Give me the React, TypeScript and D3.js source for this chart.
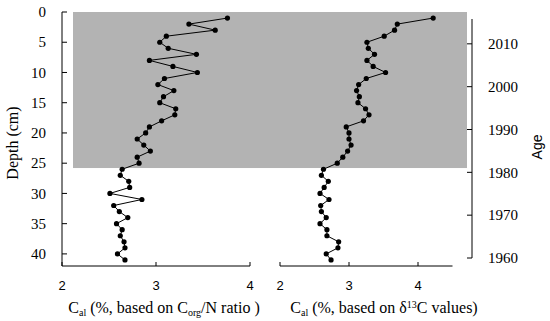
import * as d3 from 'd3';

// depth (cm) for each sample
const DEPTHS = d3.range(1, 42);

// Cal based on Corg/N ratio
const CAL_CN = [
  3.76, 3.35, 3.63, 3.11, 3.04, 3.13, 3.43, 2.93, 3.18, 3.44,
  3.09, 3.02, 3.19, 3.08, 3.04, 3.21, 3.20, 3.06, 2.93, 2.89,
  2.80, 2.87, 2.94, 2.80, 2.82, 2.64, 2.62, 2.71, 2.72, 2.51,
  2.85, 2.55, 2.61, 2.70, 2.58, 2.64, 2.62, 2.66, 2.67, 2.59,
  2.67,
];

// Cal based on d13C values
const CAL_D13C = [
  4.22, 3.70, 3.66, 3.51, 3.26, 3.28, 3.37, 3.26, 3.35, 3.53,
  3.25, 3.14, 3.11, 3.15, 3.13, 3.24, 3.29, 3.21, 2.96, 3.00,
  3.00, 3.03, 2.98, 2.91, 2.83, 2.63, 2.60, 2.70, 2.64, 2.58,
  2.71, 2.59, 2.60, 2.67, 2.58, 2.68, 2.68, 2.85, 2.84, 2.67,
  2.74,
];

const DEPTH_TICKS = [0, 5, 10, 15, 20, 25, 30, 35, 40];
const X_TICKS = [2, 3, 4];
const AGE_TICKS = [1960, 1970, 1980, 1990, 2000, 2010];
const SHADE_DEPTH = 25.8;

const SERIF = { fontFamily: "'Liberation Serif', 'Times New Roman', serif" };
const SANS = { fontFamily: "'Liberation Sans', Arial, sans-serif" };

export default function App() {
  const W = 550, H = 321;

  const y = d3.scaleLinear().domain([0, 42]).range([12, 266]);
  const xL = d3.scaleLinear().domain([2, 4]).range([62, 250]);
  const xR = d3.scaleLinear().domain([2, 4.5]).range([280, 452.5]);
  const age = d3.scaleLinear().domain([1960, 2015.8]).range([258, 19]);
  const ageX = 472;

  const lineL = d3.line<number>().x(d => xL(d)).y((_, i) => y(DEPTHS[i]));
  const lineR = d3.line<number>().x(d => xR(d)).y((_, i) => y(DEPTHS[i]));

  const axisY = 266;

  return (
    <svg width={W} height={H} style={{ display: 'block', position: 'absolute', left: 0, top: 0 }}>
      <rect x={0} y={0} width={W} height={H} fill="#fff" />
      {/* shaded recent interval */}
      <rect x={73} y={y(0)} width={ageX - 5 - 73} height={y(SHADE_DEPTH) - y(0)} fill="#b3b3b3" />

      {/* left depth axis */}
      <line x1={62} x2={62} y1={y(0)} y2={axisY} stroke="#000" strokeWidth={1} />
      {DEPTH_TICKS.map(t => (
        <g key={'d' + t}>
          <line x1={62} x2={67} y1={y(t)} y2={y(t)} stroke="#000" />
          <text x={46} y={y(t)} dy="0.35em" textAnchor="end" style={SERIF} fontSize={15}>{t}</text>
        </g>
      ))}
      <text transform={`translate(18,143) rotate(-90)`} textAnchor="middle" style={SERIF} fontSize={16}>Depth (cm)</text>

      {/* left x axis */}
      <line x1={xL(2)} x2={xL(4)} y1={axisY} y2={axisY} stroke="#000" />
      {X_TICKS.map(t => (
        <g key={'xl' + t}>
          <line x1={xL(t)} x2={xL(t)} y1={axisY} y2={axisY - 4} stroke="#000" />
          <text x={xL(t)} y={290} textAnchor="middle" style={SANS} fontSize={13}>{t}</text>
        </g>
      ))}
      <text x={164} y={313} textAnchor="middle" style={SERIF} fontSize={16}>
        C<tspan fontSize={10} dy={3}>al</tspan><tspan dy={-3}>{' (%, based on C'}</tspan>
        <tspan fontSize={10} dy={3}>org</tspan><tspan dy={-3}>/N ratio )</tspan>
      </text>

      {/* right x axis */}
      <line x1={xR(2)} x2={xR(4.5)} y1={axisY} y2={axisY} stroke="#000" />
      {X_TICKS.map(t => (
        <g key={'xr' + t}>
          <line x1={xR(t)} x2={xR(t)} y1={axisY} y2={axisY - 4} stroke="#000" />
          <text x={xR(t)} y={290} textAnchor="middle" style={SANS} fontSize={13}>{t}</text>
        </g>
      ))}
      <text x={384} y={313} textAnchor="middle" style={SERIF} fontSize={16}>
        C<tspan fontSize={10} dy={3}>al</tspan><tspan dy={-3}>{' (%, based on δ'}</tspan>
        <tspan fontSize={10} dy={-5}>13</tspan><tspan dy={5}>C values)</tspan>
      </text>

      {/* age axis */}
      <line x1={ageX} x2={ageX} y1={age(2015.8)} y2={age(1960)} stroke="#000" />
      {AGE_TICKS.map(t => (
        <g key={'a' + t}>
          <line x1={ageX - 5} x2={ageX} y1={age(t)} y2={age(t)} stroke="#000" />
          <text x={488} y={age(t)} dy="0.35em" style={SERIF} fontSize={15}>{t}</text>
        </g>
      ))}
      <text transform={`translate(542,147) rotate(-90)`} textAnchor="middle" style={SANS} fontSize={14}>Age</text>

      {/* series */}
      <path d={lineL(CAL_CN) ?? ''} fill="none" stroke="#000" strokeWidth={1} />
      {CAL_CN.map((v, i) => (
        <circle key={'pl' + i} cx={xL(v)} cy={y(DEPTHS[i])} r={2.6} fill="#000" />
      ))}
      <path d={lineR(CAL_D13C) ?? ''} fill="none" stroke="#000" strokeWidth={1} />
      {CAL_D13C.map((v, i) => (
        <circle key={'pr' + i} cx={xR(v)} cy={y(DEPTHS[i])} r={2.6} fill="#000" />
      ))}
    </svg>
  );
}
